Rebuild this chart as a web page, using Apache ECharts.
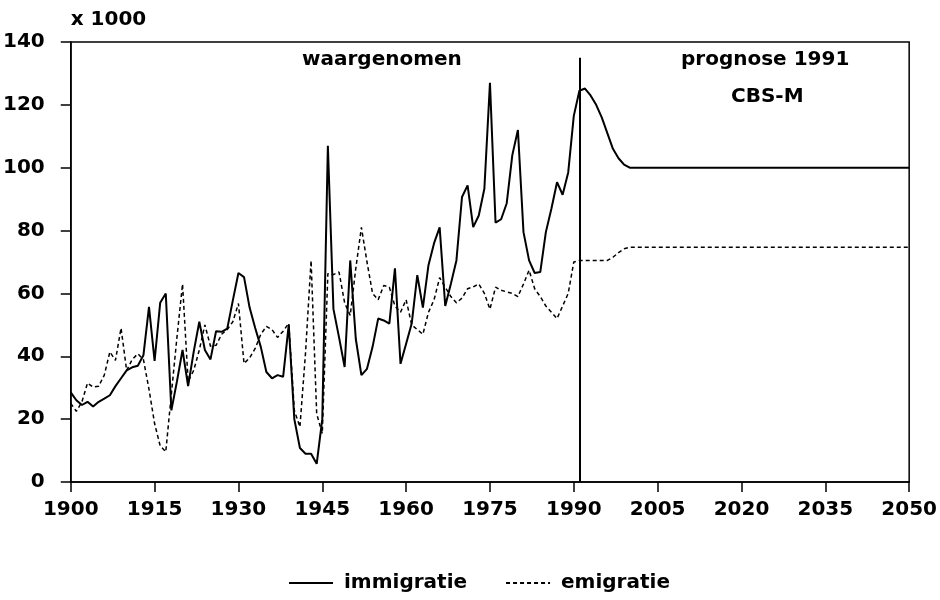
<!DOCTYPE html>
<html>
<head>
<meta charset="utf-8">
<script src="https://cdn.jsdelivr.net/npm/echarts@6/dist/echarts.min.js"></script>
<style>
html,body{margin:0;padding:0;background:#fff;}
#chart{width:940px;height:600px;}
</style>
</head>
<body>
<div id="chart"></div>
<script>
// observed data 1900-1991 (x 1000)
const immigratie = [
  28.5, 26, 24.5, 25.5, 24, 25.5, 26.5, 27.6, 30.5, 33,      // 1900-1909
  35.5, 36.5, 37, 40.3, 55.7, 38.5, 57, 60, 22.8, 32,        // 1910-1919
  42, 30.5, 41.5, 51, 42, 39, 48, 47.8, 48.8, 57.8,          // 1920-1929
  66.5, 65.2, 55.5, 49, 43, 35, 33, 34, 33.5, 50,            // 1930-1939
  20, 10.8, 9, 9, 5.8, 20, 107, 55, 46, 36.6,                // 1940-1949
  70.5, 45.5, 34, 36, 43, 52, 51.4, 50.4, 68, 37.6,          // 1950-1959
  44, 50.4, 65.8, 55.5, 69, 76, 81, 56, 63, 70.5,            // 1960-1969
  90.7, 94.4, 81.1, 84.8, 93.3, 127, 82.5, 83.6, 88.7, 104,  // 1970-1979
  112, 79.5, 70.5, 66.5, 66.8, 79.5, 87, 95.4, 91.4, 98.5,   // 1980-1989
  116.5, 124.5                                               // 1990-1991
];
const emigratie = [
  25, 22.5, 25.5, 31.5, 30.2, 30.5, 34, 41.4, 38.7, 49,      // 1900-1909
  35.5, 39, 40.8, 39, 29.5, 18.6, 11.5, 9.6, 28, 46,         // 1910-1919
  63, 32, 35.5, 42, 50, 43.2, 43.5, 47, 48.5, 51,            // 1920-1929
  56.8, 37.7, 39.5, 42.5, 47, 49.5, 48.5, 46, 48, 50.5,      // 1930-1939
  22.8, 17.5, 41, 70.5, 21.7, 15.4, 66.3, 66, 66.8, 57,      // 1940-1949
  53, 68, 81, 70, 60, 58, 62.5, 62, 56, 54,                  // 1950-1959
  58, 50, 48.5, 47, 54, 58, 65, 62, 59, 57,                  // 1960-1969
  58.5, 61.5, 62.1, 63, 60, 55, 62, 61, 60.5, 60,            // 1970-1979
  59, 63, 67.4, 61.5, 59, 56, 54, 52, 56, 60,                // 1980-1989
  70, 70.5                                                   // 1990-1991
];
// prognose 1991 (CBS-M)
const progYears = [1992, 1993, 1994, 1995, 1996, 1997, 1998, 1999, 2000, 2050];
const progImm   = [125.2, 123, 120, 116, 111, 106, 103, 101, 100, 100];
const progEmi   = [70.5, 70.5, 70.5, 70.5, 70.5, 71.5, 73, 74.2, 74.7, 74.7];
const xTicks = { min: 1900, max: 2050, interval: 15 };
const yTicks = { min: 0, max: 140, interval: 20 };
const splitYear = 1991, splitTop = 135;

const obsYears = immigratie.map((_, i) => 1900 + i);
const immData = obsYears.map((y, i) => [y, immigratie[i]]).concat(progYears.map((y, i) => [y, progImm[i]]));
const emiData = obsYears.map((y, i) => [y, emigratie[i]]).concat(progYears.map((y, i) => [y, progEmi[i]]));

const FONT = 'DejaVu Sans';
const chart = echarts.init(document.getElementById('chart'), null, { renderer: 'canvas' });
chart.setOption({
  animation: false,
  backgroundColor: '#fff',
  grid: { left: 70, right: 26, top: 42, bottom: 118, show: true, borderColor: '#000', borderWidth: 1.5, backgroundColor: 'transparent' },
  xAxis: {
    type: 'value', min: xTicks.min, max: xTicks.max, interval: xTicks.interval,
    axisLine: { show: true, lineStyle: { color: '#000', width: 1.5 } },
    axisTick: { show: true, inside: false, length: 10, lineStyle: { color: '#000', width: 1.5 } },
    splitLine: { show: false },
    axisLabel: { color: '#000', fontFamily: FONT, fontWeight: 'bold', fontSize: 20, margin: 18, formatter: v => String(v) }
  },
  yAxis: {
    type: 'value', min: yTicks.min, max: yTicks.max, interval: yTicks.interval,
    name: 'x 1000', nameLocation: 'end', nameGap: 12,
    nameTextStyle: { color: '#000', fontFamily: FONT, fontWeight: 'bold', fontSize: 20, align: 'left', padding: [0, 0, 0, 0] },
    axisLine: { show: true, lineStyle: { color: '#000', width: 1.5 } },
    axisTick: { show: true, inside: false, length: 10, lineStyle: { color: '#000', width: 1.5 } },
    splitLine: { show: false },
    axisLabel: { color: '#000', fontFamily: FONT, fontWeight: 'bold', fontSize: 20, margin: 26, formatter: v => String(v) }
  },
  legend: {
    bottom: 2, left: 283, itemWidth: 44, itemHeight: 14, itemGap: 38,
    itemStyle: { opacity: 0 },
    textStyle: { color: '#000', fontFamily: FONT, fontWeight: 'bold', fontSize: 20, padding: [0, 0, 0, 6] },
    data: ['immigratie', 'emigratie']
  },
  series: [
    {
      name: 'immigratie', type: 'line', data: immData, symbol: 'none', showSymbol: false,
      lineStyle: { color: '#000', width: 2, type: 'solid' }, itemStyle: { color: '#000' },
      markLine: {
        silent: true, symbol: 'none', label: { show: false },
        lineStyle: { color: '#000', width: 2, type: 'solid' },
        data: [[{ coord: [splitYear, 0] }, { coord: [splitYear, splitTop] }]]
      },
      z: 3
    },
    {
      name: 'emigratie', type: 'line', data: emiData, symbol: 'none', showSymbol: false,
      lineStyle: { color: '#000', width: 1.5, type: [4, 3] }, itemStyle: { color: '#000' },
      z: 2
    }
  ],
  graphic: [
    { type: 'text', left: 302, top: 50, style: { text: 'waargenomen', fill: '#000', font: 'bold 20px "DejaVu Sans"' } },
    { type: 'text', left: 681, top: 50, style: { text: 'prognose 1991', fill: '#000', font: 'bold 20px "DejaVu Sans"' } },
    { type: 'text', left: 731, top: 87, style: { text: 'CBS-M', fill: '#000', font: 'bold 20px "DejaVu Sans"' } }
  ]
});
</script>
</body>
</html>
